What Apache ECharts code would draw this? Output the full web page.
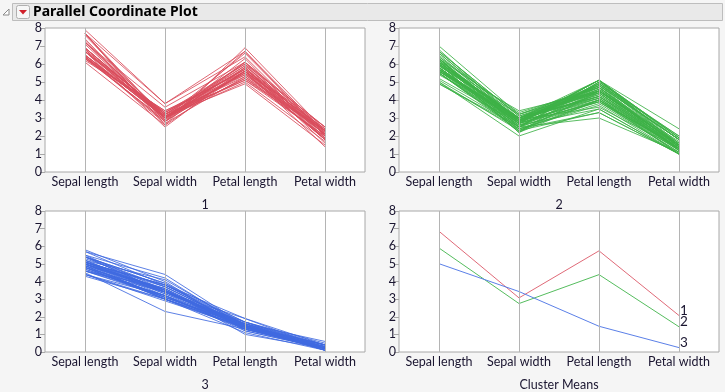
<!DOCTYPE html>
<html><head><meta charset="utf-8">
<script src="https://cdn.jsdelivr.net/npm/echarts@6/dist/echarts.min.js"></script>
<style>html,body{margin:0;padding:0;background:#f5f5f5;}#c{width:725px;height:392px;}</style>
</head><body><div id="c"></div>
<script>
const categories = ['Sepal length','Sepal width','Petal length','Petal width'];
const yTicks = [0,1,2,3,4,5,6,7,8];
const panelTitles = ['1','2','3','Cluster Means'];
const meanLabels = ['1','2','3'];

// Cluster 1 (red): rows [Sepal length, Sepal width, Petal length, Petal width]
const cluster1 = [
 [6.9,3.1,4.9,1.5],[6.7,3.0,5.0,1.7],
 [6.3,3.3,6.0,2.5],[7.1,3.0,5.9,2.1],[6.3,2.9,5.6,1.8],[6.5,3.0,5.8,2.2],[7.6,3.0,6.6,2.1],
 [7.3,2.9,6.3,1.8],[6.7,2.5,5.8,1.8],[7.2,3.6,6.1,2.5],[6.5,3.2,5.1,2.0],[6.4,2.7,5.3,1.9],
 [6.8,3.0,5.5,2.1],[6.4,3.2,5.3,2.3],[6.5,3.0,5.5,1.8],[7.7,3.8,6.7,2.2],[7.7,2.6,6.9,2.3],
 [6.9,3.2,5.7,2.3],[7.7,2.8,6.7,2.0],[6.7,3.3,5.7,2.1],[7.2,3.2,6.0,1.8],[6.4,2.8,5.6,2.1],
 [7.2,3.0,5.8,1.6],[7.4,2.8,6.1,1.9],[7.9,3.8,6.4,2.0],[6.4,2.8,5.6,2.2],[6.1,2.6,5.6,1.4],
 [7.7,3.0,6.1,2.3],[6.3,3.4,5.6,2.4],[6.4,3.1,5.5,1.8],[6.9,3.1,5.4,2.1],[6.7,3.1,5.6,2.4],
 [6.9,3.1,5.1,2.3],[6.8,3.2,5.9,2.3],[6.7,3.3,5.7,2.5],[6.7,3.0,5.2,2.3],[6.5,3.0,5.2,2.0],
 [6.2,3.4,5.4,2.3]
];
// Cluster 2 (green)
const cluster2 = [
 [7.0,3.2,4.7,1.4],[6.4,3.2,4.5,1.5],[5.5,2.3,4.0,1.3],[6.5,2.8,4.6,1.5],[5.7,2.8,4.5,1.3],
 [6.3,3.3,4.7,1.6],[4.9,2.4,3.3,1.0],[6.6,2.9,4.6,1.3],[5.2,2.7,3.9,1.4],[5.0,2.0,3.5,1.0],
 [5.9,3.0,4.2,1.5],[6.0,2.2,4.0,1.0],[6.1,2.9,4.7,1.4],[5.6,2.9,3.6,1.3],[6.7,3.1,4.4,1.4],
 [5.6,3.0,4.5,1.5],[5.8,2.7,4.1,1.0],[6.2,2.2,4.5,1.5],[5.6,2.5,3.9,1.1],[5.9,3.2,4.8,1.8],
 [6.1,2.8,4.0,1.3],[6.3,2.5,4.9,1.5],[6.1,2.8,4.7,1.2],[6.4,2.9,4.3,1.3],[6.6,3.0,4.4,1.4],
 [6.8,2.8,4.8,1.4],[6.0,2.9,4.5,1.5],[5.7,2.6,3.5,1.0],[5.5,2.4,3.8,1.1],[5.5,2.4,3.7,1.0],
 [5.8,2.7,3.9,1.2],[6.0,2.7,5.1,1.6],[5.4,3.0,4.5,1.5],[6.0,3.4,4.5,1.6],[6.7,3.1,4.7,1.5],
 [6.3,2.3,4.4,1.3],[5.6,3.0,4.1,1.3],[5.5,2.5,4.0,1.3],[5.5,2.6,4.4,1.2],[6.1,3.0,4.6,1.4],
 [5.8,2.6,4.0,1.2],[5.0,2.3,3.3,1.0],[5.6,2.7,4.2,1.3],[5.7,3.0,4.2,1.2],[5.7,2.9,4.2,1.3],
 [6.2,2.9,4.3,1.3],[5.1,2.5,3.0,1.1],[5.7,2.8,4.1,1.3],
 [5.8,2.7,5.1,1.9],[4.9,2.5,4.5,1.7],[5.7,2.5,5.0,2.0],[5.8,2.8,5.1,2.4],[6.0,2.2,5.0,1.5],
 [5.6,2.8,4.9,2.0],[6.3,2.7,4.9,1.8],[6.2,2.8,4.8,1.8],[6.1,3.0,4.9,1.8],[6.3,2.8,5.1,1.5],
 [6.0,3.0,4.8,1.8],[5.8,2.7,5.1,1.9],[6.3,2.5,5.0,1.9],[5.9,3.0,5.1,1.8]
];
// Cluster 3 (blue)
const cluster3 = [
 [5.1,3.5,1.4,0.2],[4.9,3.0,1.4,0.2],[4.7,3.2,1.3,0.2],[4.6,3.1,1.5,0.2],[5.0,3.6,1.4,0.2],
 [5.4,3.9,1.7,0.4],[4.6,3.4,1.4,0.3],[5.0,3.4,1.5,0.2],[4.4,2.9,1.4,0.2],[4.9,3.1,1.5,0.1],
 [5.4,3.7,1.5,0.2],[4.8,3.4,1.6,0.2],[4.8,3.0,1.4,0.1],[4.3,3.0,1.1,0.1],[5.8,4.0,1.2,0.2],
 [5.7,4.4,1.5,0.4],[5.4,3.9,1.3,0.4],[5.1,3.5,1.4,0.3],[5.7,3.8,1.7,0.3],[5.1,3.8,1.5,0.3],
 [5.4,3.4,1.7,0.2],[5.1,3.7,1.5,0.4],[4.6,3.6,1.0,0.2],[5.1,3.3,1.7,0.5],[4.8,3.4,1.9,0.2],
 [5.0,3.0,1.6,0.2],[5.0,3.4,1.6,0.4],[5.2,3.5,1.5,0.2],[5.2,3.4,1.4,0.2],[4.7,3.2,1.6,0.2],
 [4.8,3.1,1.6,0.2],[5.4,3.4,1.5,0.4],[5.2,4.1,1.5,0.1],[5.5,4.2,1.4,0.2],[4.9,3.1,1.5,0.2],
 [5.0,3.2,1.2,0.2],[5.5,3.5,1.3,0.2],[4.9,3.6,1.4,0.1],[4.4,3.0,1.3,0.2],[5.1,3.4,1.5,0.2],
 [5.0,3.5,1.3,0.3],[4.5,2.3,1.3,0.3],[4.4,3.2,1.3,0.2],[5.0,3.5,1.6,0.6],[5.1,3.8,1.9,0.4],
 [4.8,3.0,1.4,0.3],[5.1,3.8,1.6,0.2],[4.6,3.2,1.4,0.2],[5.3,3.7,1.5,0.2],[5.0,3.3,1.4,0.2]
];
// Cluster means
const mean1 = [6.85,3.07,5.74,2.07];
const mean2 = [5.90,2.75,4.39,1.43];
const mean3 = [5.01,3.43,1.46,0.25];

const colors = ['#d94c5c','#3db247','#3f6ae0'];
const meanColors = ['#e06a78','#55bd5e','#5b80e8'];
const FONT = 'Lato, Noto Sans, DejaVu Sans, sans-serif';

const gridPos = [
  {left:45, top:28}, {left:399, top:28}, {left:45, top:211}, {left:399, top:211}
];
const grids = gridPos.map(p => ({left:p.left, top:p.top, width:320, height:144, show:true,
  backgroundColor:'#ffffff', borderColor:'#a8a8a8', borderWidth:1, containLabel:false}));

const xAxes = gridPos.map((p,i) => ({type:'category', gridIndex:i, data:categories, boundaryGap:true,
  axisLine:{show:false}, axisTick:{show:false}, splitLine:{show:false},
  axisLabel:{color:'#1a1530', fontSize:12.5, fontFamily:FONT, margin:3, interval:0, hideOverlap:false},
  name:panelTitles[i], nameLocation:'middle', nameGap:26,
  nameTextStyle:{color:'#1a1530', fontSize:12.5, fontFamily:FONT}}));

const yAxes = gridPos.map((p,i) => ({type:'value', gridIndex:i, min:0, max:8, interval:1,
  axisLine:{show:false}, axisTick:{show:true, length:5, lineStyle:{color:'#a8a8a8'}},
  splitLine:{show:false},
  axisLabel:{color:'#1a1530', fontSize:12.5, fontFamily:FONT, margin:3,
    formatter: v => yTicks.indexOf(v) >= 0 ? String(v) : ''}}));

const series = [];
function vlineSeries(i){
  return {type:'line', xAxisIndex:i, yAxisIndex:i, data:[], silent:true, z:1,
    markLine:{silent:true, symbol:['none','none'], label:{show:false},
      lineStyle:{color:'#b4b4b4', width:1, type:'solid'},
      data: categories.map(c => ({xAxis:c}))}};
}
for (let i=0;i<4;i++) series.push(vlineSeries(i));
[cluster1, cluster2, cluster3].forEach((rows, ci) => {
  rows.forEach(r => series.push({type:'line', xAxisIndex:ci, yAxisIndex:ci, data:r,
    symbol:'none', silent:true, z:2, animation:false,
    lineStyle:{color:colors[ci], width:1, opacity:0.85}}));
});
[mean1, mean2, mean3].forEach((m, ci) => series.push({type:'line', xAxisIndex:3, yAxisIndex:3, data:m,
  symbol:'none', silent:true, z:2, animation:false,
  lineStyle:{color:meanColors[ci], width:1},
  endLabel:{show:true, formatter:meanLabels[ci], color:'#1a1530', fontSize:13.5, fontFamily:FONT,
    distance:1, offset:[0,-5]}}));

const graphic = [
  {type:'rect', shape:{x:12.5, y:3.5, width:710, height:17}, style:{fill:'#e9e9e9', stroke:'#bdbdbd', lineWidth:1}},
  {type:'polygon', shape:{points:[[9,9],[9,15],[3,15]]}, style:{fill:'#ffffff', stroke:'#8a8a8a', lineWidth:1}},
  {type:'rect', shape:{x:16.5, y:5.5, width:13, height:13, r:2}, style:{fill:'#f7f7f7', stroke:'#b0b0b0', lineWidth:1}},
  {type:'polygon', shape:{points:[[19,10],[27,10],[23,14.5]]}, style:{fill:'#d0202a'}},
  {type:'text', x:33, y:12, style:{text:'Parallel Coordinate Plot', font:'bold 14px Noto Sans, DejaVu Sans, sans-serif', fill:'#000000', verticalAlign:'middle'}}
];

const chart = echarts.init(document.getElementById('c'), null, {renderer:'canvas'});
chart.setOption({animation:false, backgroundColor:'#f5f5f5', grid:grids, xAxis:xAxes, yAxis:yAxes, series:series, graphic:graphic});
</script></body></html>
